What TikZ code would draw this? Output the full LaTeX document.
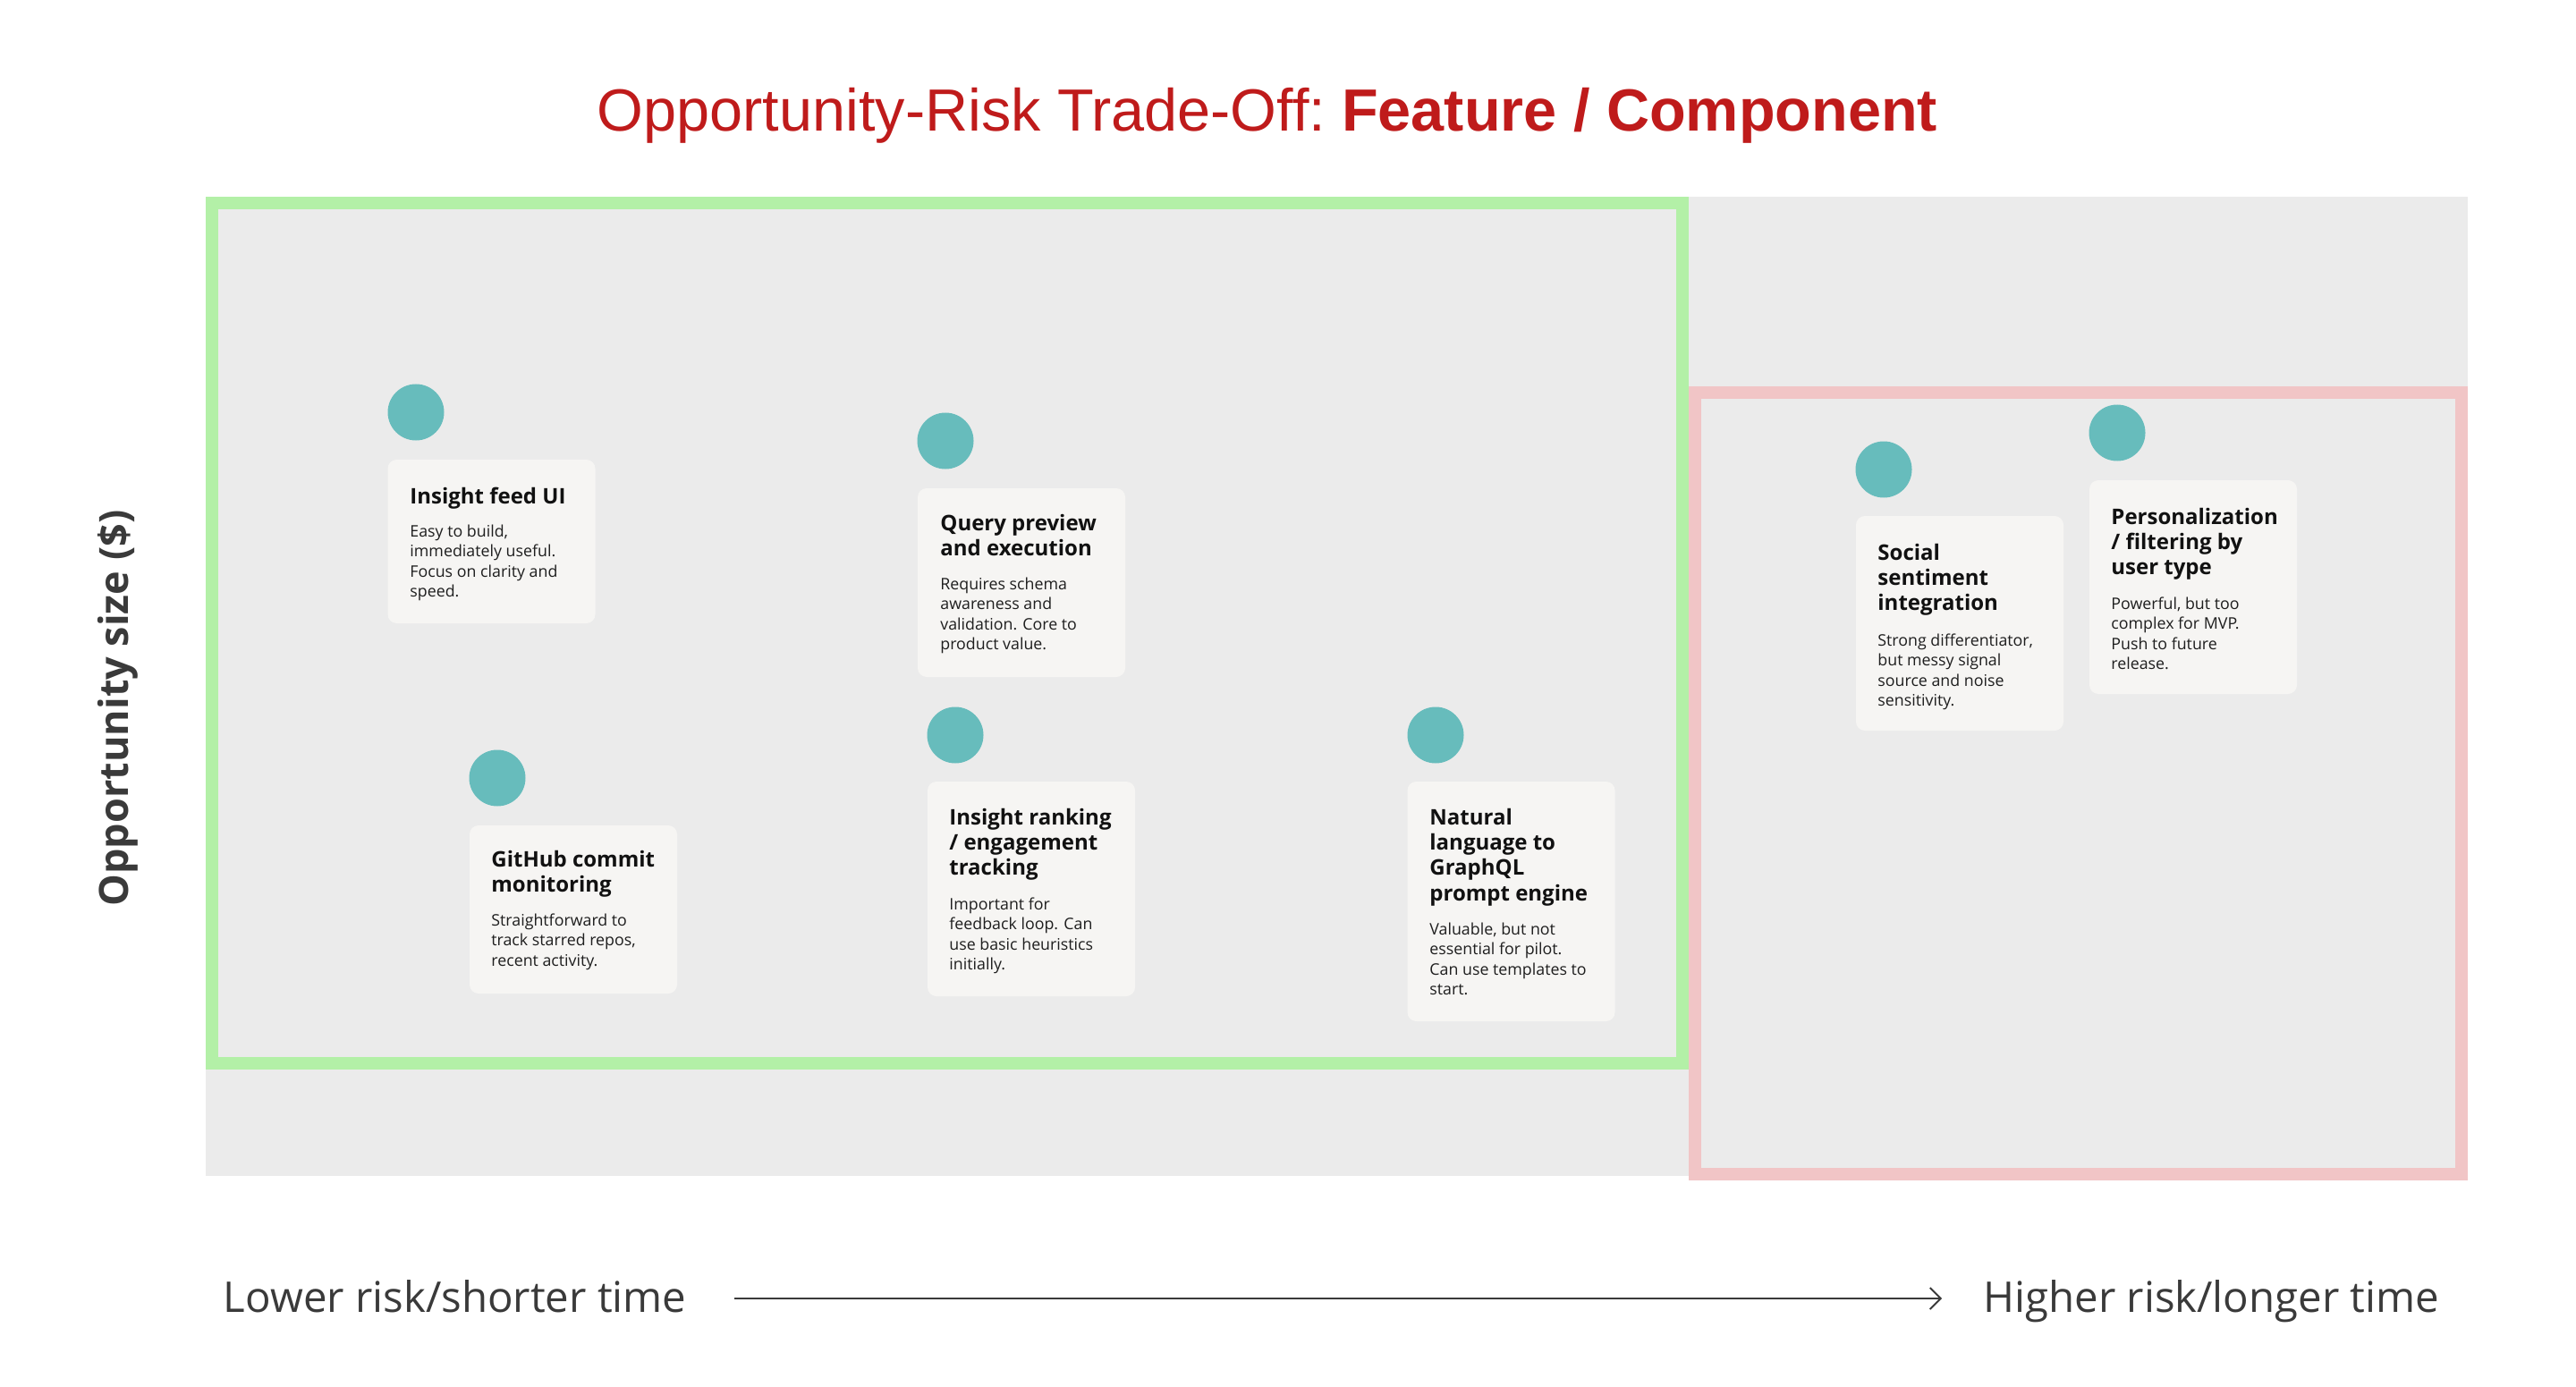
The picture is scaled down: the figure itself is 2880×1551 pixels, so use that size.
\documentclass[tikz,border=0pt]{standalone}
\usepackage{fontspec}
\setmainfont{Open Sans}
\newfontfamily\titlefont{Liberation Sans}
\usetikzlibrary{arrows.meta}
\definecolor{bggray}{HTML}{EBEBEB}
\definecolor{zonegreen}{HTML}{B3F0A7}
\definecolor{zonepink}{HTML}{F1C5C6}
\definecolor{cardfill}{HTML}{F6F5F3}
\definecolor{dotteal}{HTML}{67BCBC}
\definecolor{titlered}{HTML}{BF1B1B}
\definecolor{axisgray}{HTML}{3A3A3A}
\definecolor{ttlblack}{HTML}{111111}
\definecolor{bodyblack}{HTML}{1E1E1E}
\begin{document}
\begin{tikzpicture}[x=0.5pt,y=-0.5pt,
  dot/.style={circle, fill=dotteal, minimum size=31.5pt, inner sep=0pt},
  card/.style={rectangle, rounded corners=5pt, fill=cardfill, minimum width=116pt, inner sep=0pt},
  ttl/.style={anchor=base west, inner sep=0pt, text=ttlblack, font=\fontsize{12pt}{14.2pt}\selectfont\bfseries},
  bdy/.style={anchor=base west, inner sep=0pt, text=bodyblack, font=\fontsize{8.9pt}{11.25pt}\selectfont},
  axislbl/.style={inner sep=0pt, text height=20pt, text depth=5pt, text=axisgray, font=\fontsize{23.7pt}{28pt}\selectfont},
  zone/.style={draw, line width=7pt}
]
\useasboundingbox (0,0) rectangle (2880,1551);
\fill[white] (0,0) rectangle (2880,1551);

% background and zones
\fill[bggray] (230,220) rectangle (2759,1315);
\draw[zone, draw=zonegreen] (237,227) rectangle (1881,1189);
\draw[zone, draw=zonepink] (1895,439) rectangle (2752,1313);

% title
\node[anchor=base, inner sep=0pt, text=titlered, font=\titlefont\fontsize{33.3pt}{38pt}\selectfont] (title) at (1417,147) {Opportunity-Risk Trade-Off:\hspace{-0.1em} \textbf{Feature / Component}};

% axis labels
\node[rotate=90, inner sep=0pt, text=axisgray, font=\fontsize{22.5pt}{27pt}\selectfont\bfseries] (ylab) at (132,792) {Opportunity size (\$)};
\node[axislbl, anchor=base east] (lo) at (768,1467) {Lower risk/shorter time};
\node[axislbl, anchor=base west] (hi) at (2217,1467) {Higher risk/longer time};
\draw[axisgray, line width=1.25pt, shorten <=26.5pt, shorten >=23pt, -{Straight Barb[length=6pt,width=12pt,line width=0.9pt]}] (lo) -- (hi);

% card 1
\node[dot] (c1) at (465,461) {};
\node[card, minimum height=91.5pt] (k1) at (549.5,605.5) {};
\node[ttl] (t1) at (458,563) {\parbox[t]{140pt}{Insight feed UI}};
\node[bdy] (b1) at (458,600) {\parbox[t]{140pt}{Easy to build,\\immediately useful.\\Focus on clarity and\\speed.}};

% card 2
\node[dot] (c2) at (1057,493) {};
\node[card, minimum height=105.5pt] (k2) at (1142,651.5) {};
\node[ttl] (t2) at (1051,593) {\parbox[t]{140pt}{Query preview\\and execution}};
\node[bdy] (b2) at (1051,659) {\parbox[t]{140pt}{Requires schema\\awareness and\\validation. Core to\\product value.}};

% card 3
\node[dot] (c3) at (556,870) {};
\node[card, minimum height=94pt] (k3) at (641,1017) {};
\node[ttl] (t3) at (549,969) {\parbox[t]{140pt}{GitHub commit\\monitoring}};
\node[bdy] (b3) at (549,1035) {\parbox[t]{140pt}{Straightforward to\\track starred repos,\\recent activity.}};

% card 4
\node[dot] (c4) at (1068,822) {};
\node[card, minimum height=120pt] (k4) at (1153,994) {};
\node[ttl] (t4) at (1061,922) {\parbox[t]{140pt}{Insight ranking\\/ engagement\\tracking}};
\node[bdy] (b4) at (1061,1017) {\parbox[t]{140pt}{Important for\\feedback loop. Can\\use basic heuristics\\initially.}};

% card 5
\node[dot] (c5) at (1605,822) {};
\node[card, minimum height=134pt] (k5) at (1689.5,1008) {};
\node[ttl] (t5) at (1598,922) {\parbox[t]{140pt}{Natural\\language to\\GraphQL\\prompt engine}};
\node[bdy] (b5) at (1598,1045) {\parbox[t]{140pt}{Valuable, but not\\essential for pilot.\\Can use templates to\\start.}};

% card 6
\node[dot] (c6) at (2106,525) {};
\node[card, minimum height=120pt] (k6) at (2191,697) {};
\node[ttl] (t6) at (2099,626) {\parbox[t]{140pt}{Social\\sentiment\\integration}};
\node[bdy] (b6) at (2099,722) {\parbox[t]{140pt}{Strong differentiator,\\but messy signal\\source and noise\\sensitivity.}};

% card 7
\node[dot] (c7) at (2367,484) {};
\node[card, minimum height=119.5pt] (k7) at (2452,656.5) {};
\node[ttl] (t7) at (2360,586) {\parbox[t]{140pt}{Personalization\\/ filtering by\\user type}};
\node[bdy] (b7) at (2360,681) {\parbox[t]{140pt}{Powerful, but too\\complex for MVP.\\Push to future\\release.}};
\end{tikzpicture}
\end{document}
